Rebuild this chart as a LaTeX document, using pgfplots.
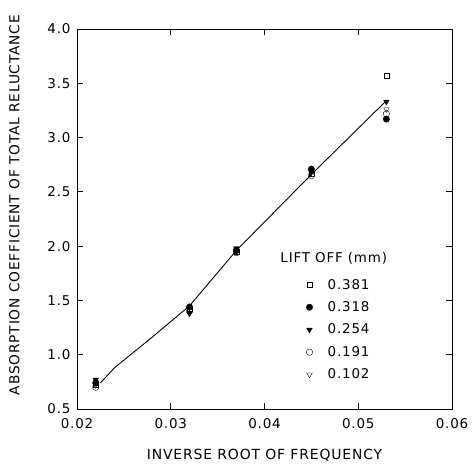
\documentclass[border=0pt]{standalone}
\usepackage{fontspec}
\setmainfont[LetterSpace=6]{DejaVu Sans}
\usepackage{pgfplots}
\pgfplotsset{compat=1.18}
\begin{document}
\begin{tikzpicture}
\path[use as bounding box] (-77bp,-55bp) rectangle (396bp,409bp);
\begin{axis}[
  anchor=south west, at={(0,0)},
  scale only axis,
  width=375bp, height=380bp,
  xmin=0.02, xmax=0.06, ymin=0.5, ymax=4.0,
  xtick={0.02,0.03,0.04,0.05,0.06},
  ytick={0.5,1.0,1.5,2.0,2.5,3.0,3.5,4.0},
  xticklabels={0.02,0.03,0.04,0.05,0.06},
  yticklabels={0.5,1.0,1.5,2.0,2.5,3.0,3.5,4.0},
  scaled x ticks=false, scaled y ticks=false,
  /pgf/number format/assume math mode=true,
  tick align=inside, major tick length=6bp,
  tick style={black, line width=0.8pt},
  axis line style={line width=0.9pt},
  ticklabel style={font=\fontsize{13.5}{16}\selectfont},
  xticklabel style={yshift=-6bp},
  yticklabel style={xshift=-3bp},
  xlabel={INVERSE ROOT OF FREQUENCY},
  ylabel={ABSORPTION COEFFICIENT OF TOTAL RELUCTANCE},
  xlabel style={font=\fontsize{14}{16}\selectfont, yshift=-14bp},
  ylabel style={font=\fontsize{13.8}{16}\selectfont, yshift=21bp, xshift=14bp},
  legend style={draw=none, fill=none, at={(0.603,0.353)}, anchor=north west,
    font=\fontsize{13.5}{17}\selectfont, row sep=7bp, cells={anchor=west}},
  legend cell align=left,
]
\addplot[only marks, mark=square, mark size=2.4bp, thin] coordinates {
 (0.022,0.72) (0.032,1.42) (0.037,1.95) (0.045,2.67) (0.053,3.57)};
\addlegendentry{\hspace{13bp}0.381}
\addplot[only marks, mark=*, mark size=3.2bp] coordinates {
 (0.022,0.74) (0.032,1.44) (0.037,1.96) (0.045,2.71) (0.053,3.17)};
\addlegendentry{\hspace{13bp}0.318}
\addplot[only marks, mark=triangle*, mark options={rotate=180}, mark size=3.2bp] coordinates {
 (0.022,0.77) (0.032,1.38) (0.037,1.98) (0.045,2.68) (0.053,3.33)};
\addlegendentry{\hspace{13bp}0.254}
\addplot[only marks, mark=o, mark size=3.2bp, thin] coordinates {
 (0.022,0.70) (0.032,1.40) (0.037,1.94) (0.045,2.65) (0.053,3.22)};
\addlegendentry{\hspace{13bp}0.191}
\addplot[only marks, mark=triangle, mark options={rotate=180}, mark size=3.2bp, thin] coordinates {
 (0.022,0.72) (0.032,1.43) (0.037,1.96) (0.045,2.69) (0.053,3.26)};
\addlegendentry{\hspace{13bp}0.102}
\addplot[black, line width=0.9pt, forget plot] coordinates {
 (0.0225,0.74) (0.024,0.88) (0.028,1.16) (0.032,1.45) (0.037,1.96) (0.045,2.66)
 (0.053,3.34)};
\node[anchor=west, font=\fontsize{13.5}{16}\selectfont] at (axis cs:0.04133,1.89) {LIFT OFF (mm)};
\end{axis}
\end{tikzpicture}
\end{document}
